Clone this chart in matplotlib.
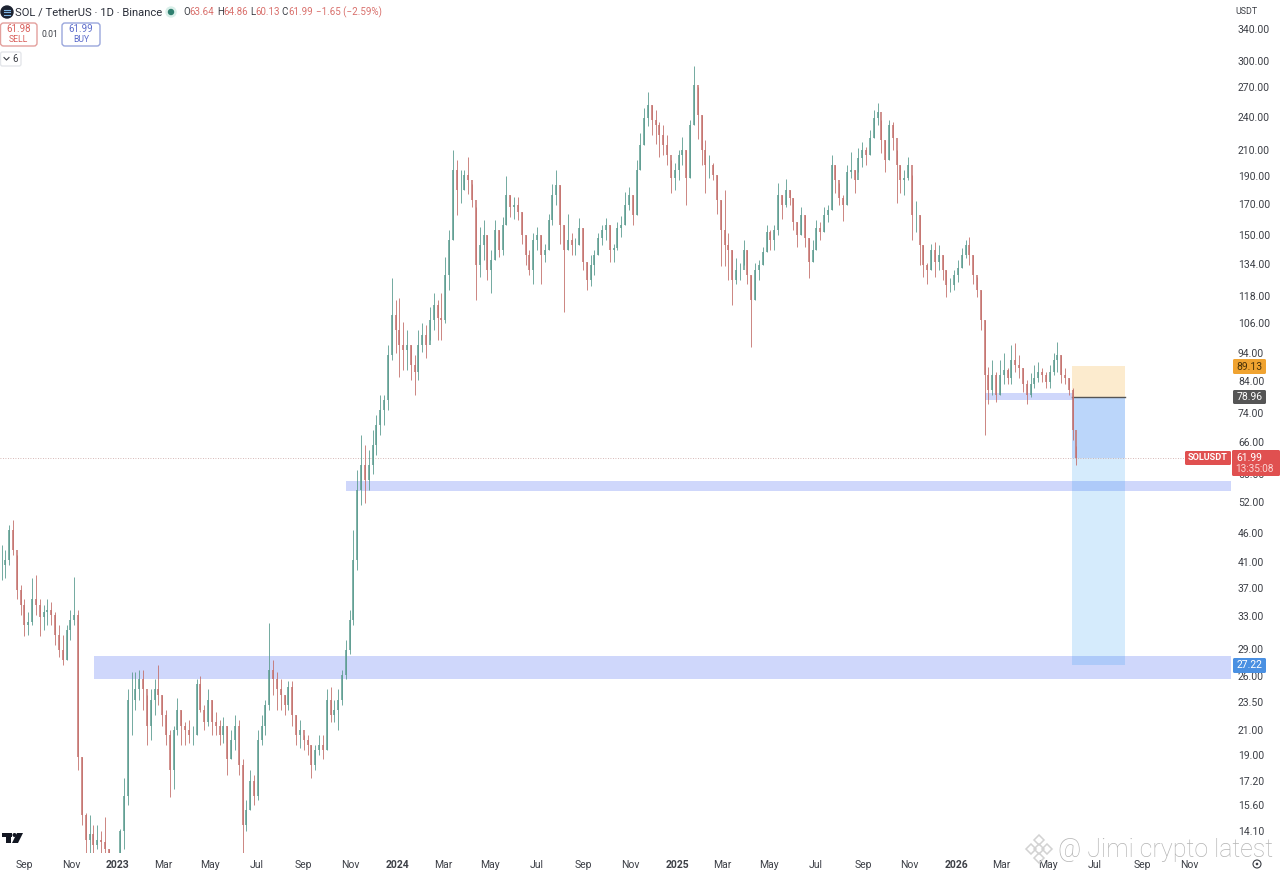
import numpy as np
import matplotlib
matplotlib.use('Agg')
from matplotlib import pyplot as plt
from matplotlib import dates as mdates
from matplotlib.patches import FancyBboxPatch, Polygon, Circle, Rectangle

plt.rcParams['font.family'] = ['Roboto', 'DejaVu Sans']

# Candles, one every 5 days starting at first_bar
first_bar = '2022-08-02'
bar_step_days = 5
highs = [
    43.8, 43.0, 47.4, 48.4, 42.1, 37.4, 35.3, 33.6, 38.5, 38.9,
    35.3, 34.6, 35.3, 34.9, 33.6, 31.9, 30.7, 31.9, 33.9, 38.6,
    33.9, 18.9, 15.1, 15.0, 14.4, 14.4, 14.1, 14.9, 13.1, 12.5,
    12.5, 14.2, 17.4, 24.7, 26.5, 26.5, 26.7, 26.7, 24.2, 24.7,
    25.7, 27.2, 24.2, 22.8, 21.0, 21.4, 23.9, 22.8, 21.7, 21.9,
    21.4, 25.7, 26.0, 23.2, 24.7, 23.7, 22.6, 21.9, 22.1, 21.4,
    21.0, 22.3, 21.9, 18.7, 15.9, 17.9, 17.6, 21.0, 22.3, 23.7,
    32.2, 27.8, 26.5, 25.7, 24.2, 25.5, 25.5, 22.3, 21.9, 20.6,
    20.6, 19.8, 19.8, 20.6, 20.6, 24.7, 24.9, 23.7, 24.7, 26.7,
    30.1, 33.9, 46.5, 59.1, 67.8, 65.2, 64.0, 69.2, 73.5, 79.6,
    79.6, 97.0, 126.6, 116.0, 116.9, 106.3, 103.0, 97.0, 93.2, 103.0,
    105.9, 105.0, 112.8, 119.2, 116.0, 119.2, 137.6, 153.2, 210.4, 202.2,
    194.4, 194.4, 204.7, 183.9, 167.8, 155.0, 159.4, 150.2, 141.5, 159.4,
    153.2, 161.0, 189.3, 176.0, 174.7, 174.7, 164.5, 150.2, 141.5, 151.4,
    155.0, 150.2, 145.0, 163.1, 183.9, 194.4, 183.2, 156.3, 163.1, 151.4,
    148.4, 160.7, 154.5, 135.0, 138.8, 141.5, 151.4, 156.3, 160.7, 156.3,
    145.0, 158.2, 161.5, 177.8, 181.5, 176.0, 202.2, 225.0, 248.6, 265.0,
    251.5, 246.6, 235.0, 232.4, 223.3, 202.2, 199.8, 210.4, 221.5, 210.4,
    237.0, 294.0, 270.0, 241.5, 218.9, 206.2, 199.8, 190.6, 172.6, 179.5,
    151.4, 141.5, 137.1, 134.4, 147.2, 141.5, 128.0, 134.4, 136.0, 143.2,
    156.3, 153.2, 156.3, 184.3, 176.0, 187.6, 179.5, 173.9, 158.2, 167.8,
    162.6, 148.4, 147.2, 159.4, 158.2, 167.8, 169.2, 206.2, 198.2, 184.3,
    176.0, 198.2, 208.7, 194.4, 212.0, 217.2, 213.0, 227.8, 246.6, 253.7,
    237.0, 218.9, 237.0, 235.2, 210.4, 198.2, 194.4, 204.6, 190.6, 171.9,
    162.6, 144.3, 134.4, 145.0, 145.8, 144.3, 138.8, 130.7, 126.6, 130.7,
    136.0, 142.6, 147.2, 148.8, 138.8, 127.1, 120.7, 107.2, 88.7, 91.4,
    87.2, 91.4, 94.0, 88.6, 97.0, 97.8, 93.2, 88.6, 84.4, 86.9,
    89.6, 90.7, 88.6, 87.2, 89.6, 94.0, 98.2, 93.0, 88.6, 85.0,
    81.8, 64.86,
]
lows = [
    38.2, 38.5, 40.5, 42.1, 35.3, 33.2, 30.5, 30.7, 31.9, 33.2,
    30.5, 31.3, 31.9, 31.9, 29.5, 28.1, 27.2, 27.8, 30.1, 31.9,
    17.9, 14.4, 12.8, 12.9, 12.9, 13.1, 12.9, 12.5, 11.8, 11.5,
    11.5, 12.0, 13.1, 15.6, 20.6, 22.8, 23.7, 22.8, 19.8, 20.2,
    22.3, 23.2, 21.4, 19.8, 16.1, 16.6, 20.6, 19.8, 19.8, 20.0,
    19.8, 20.6, 22.6, 21.0, 21.4, 20.6, 20.6, 19.8, 20.0, 17.6,
    18.7, 19.4, 17.6, 12.9, 14.1, 15.3, 15.6, 15.9, 19.8, 20.6,
    22.8, 24.2, 22.8, 22.8, 22.3, 22.8, 21.4, 19.8, 19.6, 19.4,
    19.0, 17.4, 17.9, 19.0, 18.7, 19.4, 21.7, 21.7, 21.0, 23.2,
    25.7, 28.4, 31.9, 39.7, 51.4, 51.8, 54.6, 58.0, 62.7, 67.8,
    70.6, 75.0, 91.4, 93.9, 85.4, 87.9, 87.9, 84.4, 79.6, 84.4,
    94.3, 92.0, 99.0, 103.0, 99.0, 99.0, 105.9, 120.7, 147.2, 162.4,
    170.6, 179.5, 176.7, 167.8, 116.0, 127.1, 136.0, 125.6, 119.2, 136.0,
    137.6, 138.8, 156.3, 161.0, 159.9, 159.4, 145.0, 133.3, 128.0, 123.6,
    141.5, 123.6, 135.0, 141.5, 156.3, 169.2, 145.0, 110.6, 141.5, 138.8,
    138.8, 144.3, 130.7, 120.7, 122.6, 128.0, 138.8, 144.3, 147.2, 134.9,
    135.0, 141.5, 148.8, 156.3, 165.8, 156.3, 162.6, 194.4, 214.6, 231.6,
    223.3, 215.5, 204.6, 206.2, 198.2, 177.2, 179.5, 186.8, 198.2, 169.2,
    188.3, 232.4, 220.1, 198.2, 177.2, 188.3, 186.8, 163.1, 132.8, 132.8,
    125.6, 113.8, 123.6, 125.6, 133.3, 123.6, 96.3, 116.0, 125.6, 133.3,
    140.4, 141.5, 141.5, 150.2, 160.1, 167.8, 169.2, 153.2, 143.2, 150.2,
    143.2, 126.6, 135.0, 141.5, 147.2, 152.0, 158.2, 165.8, 177.2, 169.2,
    158.8, 169.2, 188.3, 177.2, 192.9, 196.7, 198.2, 206.2, 220.7, 232.4,
    208.0, 193.0, 202.2, 210.4, 170.6, 177.2, 176.0, 186.8, 147.2, 152.0,
    133.3, 127.1, 123.6, 130.7, 127.1, 130.7, 125.6, 117.4, 119.7, 120.7,
    124.3, 131.7, 137.1, 133.3, 123.6, 117.4, 103.0, 67.9, 76.8, 79.6,
    77.4, 79.6, 83.0, 83.0, 83.0, 87.2, 85.0, 80.6, 76.8, 79.0,
    81.8, 83.7, 83.7, 81.8, 81.8, 85.9, 87.2, 83.3, 83.0, 79.6,
    66.5, 60.13,
]
closes = [
    40.5, 41.3, 46.5, 43.0, 36.7, 34.6, 31.9, 32.3, 35.3, 34.6,
    32.9, 33.6, 33.9, 33.2, 30.7, 28.9, 27.8, 31.3, 32.6, 33.2,
    18.9, 15.0, 13.6, 13.9, 13.3, 13.6, 13.5, 13.1, 12.3, 12.0,
    12.1, 14.1, 16.2, 23.7, 23.7, 24.7, 25.7, 24.7, 21.4, 23.7,
    24.7, 24.2, 22.3, 20.6, 17.9, 21.0, 22.8, 21.4, 21.0, 20.6,
    20.6, 25.2, 22.8, 21.7, 23.7, 21.7, 21.4, 20.6, 21.4, 18.7,
    20.2, 21.4, 18.3, 14.4, 15.3, 17.2, 16.2, 20.2, 21.4, 23.2,
    26.7, 25.7, 24.7, 24.2, 23.2, 24.9, 22.3, 20.6, 21.0, 20.2,
    19.8, 18.3, 19.4, 19.8, 19.4, 23.7, 22.3, 22.8, 23.7, 26.2,
    28.9, 32.6, 41.3, 54.6, 60.3, 56.8, 60.3, 65.2, 70.6, 75.0,
    78.0, 93.2, 109.3, 103.0, 97.0, 95.1, 97.0, 89.6, 87.2, 97.0,
    101.0, 97.0, 107.2, 113.8, 108.0, 107.2, 128.0, 147.2, 194.4, 179.5,
    179.5, 190.6, 186.8, 172.6, 133.3, 144.3, 150.2, 130.7, 136.0, 153.2,
    141.5, 156.3, 176.0, 167.8, 169.2, 164.5, 150.2, 138.8, 130.7, 147.2,
    150.2, 138.8, 141.5, 159.4, 176.0, 183.2, 156.3, 141.5, 147.2, 144.3,
    144.3, 154.5, 135.0, 125.6, 133.3, 138.8, 148.4, 153.2, 156.3, 141.5,
    142.6, 154.5, 156.3, 169.2, 176.0, 162.6, 194.4, 214.6, 238.9, 251.5,
    237.0, 232.4, 223.3, 214.6, 206.2, 188.3, 194.4, 206.2, 210.4, 188.3,
    232.4, 272.0, 241.5, 210.4, 198.2, 198.2, 190.6, 172.6, 153.2, 144.3,
    141.5, 125.6, 130.7, 130.7, 141.5, 128.0, 116.0, 130.7, 133.3, 140.4,
    152.0, 147.2, 153.2, 176.0, 169.2, 179.5, 173.9, 158.2, 150.2, 162.6,
    148.4, 135.0, 141.5, 154.5, 152.0, 162.6, 165.8, 198.2, 186.8, 173.9,
    169.2, 192.9, 194.4, 186.8, 203.8, 210.4, 206.2, 220.7, 239.0, 244.6,
    218.9, 202.2, 232.4, 220.7, 198.2, 186.8, 188.3, 198.2, 162.6, 162.6,
    144.3, 133.3, 130.7, 141.5, 135.0, 138.8, 130.7, 123.0, 123.0, 128.0,
    131.7, 138.8, 144.3, 138.8, 128.0, 120.7, 107.2, 85.9, 81.2, 86.2,
    79.6, 86.2, 87.9, 85.0, 91.4, 89.6, 88.6, 83.0, 79.6, 83.0,
    85.0, 87.2, 85.9, 83.7, 87.2, 91.4, 93.0, 85.9, 85.0, 81.2,
    69.2, 61.99,
]

# Price axis and time axis labels
price_ticks = [340, 300, 270, 240, 210, 190, 170, 150, 134, 118, 106, 94, 84, 74,
               66, 58, 52, 46, 41, 37, 33, 29, 26, 23.5, 21, 19, 17.2, 15.6, 14.1]
time_tick_dates = ['2022-09-01', '2022-11-01', '2023-01-01', '2023-03-01', '2023-05-01',
                   '2023-07-01', '2023-09-01', '2023-11-01', '2024-01-01', '2024-03-01',
                   '2024-05-01', '2024-07-01', '2024-09-01', '2024-11-01', '2025-01-01',
                   '2025-03-01', '2025-05-01', '2025-07-01', '2025-09-01', '2025-11-01',
                   '2026-01-01', '2026-03-01', '2026-05-01', '2026-07-01', '2026-09-01',
                   '2026-11-01']
time_tick_labels = ['Sep', 'Nov', '2023', 'Mar', 'May', 'Jul', 'Sep', 'Nov', '2024', 'Mar',
                    'May', 'Jul', 'Sep', 'Nov', '2025', 'Mar', 'May', 'Jul', 'Sep', 'Nov',
                    '2026', 'Mar', 'May', 'Jul', 'Sep', 'Nov']

# Support zones: start date, price low, price high
zone_starts = ['2023-10-26', '2022-12-01', '2026-02-07']
zone_ends = ['2026-12-26', '2026-12-26', '2026-06-03']
zone_lows = [54.4, 25.7, 78.0]
zone_highs = [56.6, 28.2, 80.0]

# Short position tool
position_start = '2026-06-01'
position_end = '2026-08-09'
stop_price = 89.13
entry_price = 78.96
last_price = 61.99
target_price = 27.22

UP = '#5c9c90'
DOWN = '#c4716d'
TEXT = '#3c3f46'
W, H = 1280, 874
PLOT_RIGHT, PLOT_BOTTOM = 1231, 853


def num(day):
    return mdates.date2num(np.datetime64(day))


fig = plt.figure(figsize=(W / 100, H / 100), dpi=100)
ax = fig.add_axes([0, (H - PLOT_BOTTOM) / H, PLOT_RIGHT / W, PLOT_BOTTOM / H])

# Zones and the position box sit under the candles
for start, end, low, high in zip(zone_starts, zone_ends, zone_lows, zone_highs):
    ax.fill_between([num(start), num(end)], low, high, color=(0.25, 0.38, 0.94), alpha=0.25, lw=0, zorder=1)
pos_x = [num(position_start), num(position_end)]
ax.fill_between(pos_x, entry_price, stop_price, color='#f5a623', alpha=0.22, lw=0, zorder=1)
ax.fill_between(pos_x, last_price, entry_price, color='#1e78f0', alpha=0.30, lw=0, zorder=1)
ax.fill_between(pos_x, target_price, last_price, color='#2196f3', alpha=0.19, lw=0, zorder=1)
ax.plot(pos_x, [entry_price, entry_price], color='#555555', lw=1, zorder=2)

# Candles
xs = num(first_bar) + np.arange(len(closes)) * bar_step_days
opens = np.r_[closes[0], closes[:-1]]
closes_arr = np.array(closes)
colors = [UP if c >= o else DOWN for o, c in zip(opens, closes_arr)]
ax.vlines(xs, lows, highs, colors=colors, lw=0.6, zorder=3)
ax.vlines(xs, np.minimum(opens, closes_arr), np.maximum(opens, closes_arr), colors=colors, lw=1.1, zorder=3)

ax.axhline(last_price, color='#c9a09e', lw=0.6, ls=(0, (1, 2)), zorder=2)

ax.set_yscale('log')
ax.set_ylim(12.9, 381.5)
ax.set_xlim(num('2022-07-31'), num('2026-12-26'))
ax.yaxis.tick_right()
ax.set_yticks(price_ticks)
ax.set_yticklabels([f'{p:.2f}' for p in price_ticks])
ax.minorticks_off()
ax.set_xticks([num(d) for d in time_tick_dates])
ax.set_xticklabels(time_tick_labels)
ax.tick_params(axis='both', length=0, labelsize=7.5, labelcolor=TEXT)
ax.tick_params(axis='y', pad=5)
ax.tick_params(axis='x', pad=5)
for lab in ax.get_xticklabels():
    if lab.get_text().isdigit():
        lab.set_fontweight('bold')
for lab in ax.get_yticklabels():
    lab.set_y(lab.get_position()[1])
for spine in ax.spines.values():
    spine.set_visible(False)

# Everything else is chart furniture, placed in screen pixels
ov = fig.add_axes([0, 0, 1, 1], zorder=5)
ov.set_xlim(0, W)
ov.set_ylim(H, 0)
ov.axis('off')


def box(x0, y0, x1, y1, face='none', edge='none', r=1.5, lw=1.0):
    ov.add_patch(FancyBboxPatch((x0, y0), x1 - x0, y1 - y0, boxstyle=f'round,pad=0,rounding_size={r}',
                                facecolor=face, edgecolor=edge, lw=lw))


def label(x, y, s, size=7.5, color=TEXT, ha='center', **kw):
    ov.text(x, y, s, fontsize=size, color=color, ha=ha, va='center', **kw)


# Right hand price labels
label(1246, 12, 'USDT', size=6.4)
box(1233, 359, 1266, 374, face='#f0a330')
label(1249.5, 366.5, '89.13', color='#4a3208')
box(1233, 390, 1266, 404, face='#555555')
label(1249.5, 397, '78.96', color='white')
box(1233, 658, 1266, 673, face='#4a90e2')
label(1249.5, 665.5, '27.22', color='white')
box(1185, 451, 1231, 465, face='#e05050')
label(1208, 458, 'SOLUSDT', size=6.6, color='white', fontweight='bold')
box(1232, 450, 1280, 476, face='#e05050')
label(1249.5, 458, '61.99', color='white')
label(1254, 469, '13:35:08', size=7.2, color='#fbd5d3')

# Header
ov.add_patch(Circle((7, 12), 6, color='#1c2230'))
for yy in (9.5, 12, 14.5):
    ov.plot([4, 10], [yy, yy], color='#7fb6e6', lw=0.8)
label(15, 12, 'SOL / TetherUS · 1D · Binance', size=8.1, color='#2a2e39', ha='left')
ov.add_patch(Circle((171, 12), 5, color='#d9efe9'))
ov.add_patch(Circle((171, 12), 2.5, color='#2f7f6f'))
label(183, 12, 'O', size=7, ha='left')
label(189, 12, '63.64', size=7, color='#d9706c', ha='left')
label(217, 12, 'H', size=7, ha='left')
label(223, 12, '64.86', size=7, color='#d9706c', ha='left')
label(250, 12, 'L', size=7, ha='left')
label(255, 12, '60.13', size=7, color='#d9706c', ha='left')
label(281, 12, 'C', size=7, ha='left')
label(288, 12, '61.99', size=7, color='#d9706c', ha='left')
label(316, 12, '−1.65 (−2.59%)', size=7, color='#d9706c', ha='left')

box(0.5, 23, 37, 46, edge='#e3a09d', r=3)
label(18.5, 29.5, '61.98', size=7, color='#d9605c')
label(18.5, 39, 'SELL', size=6.2, color='#d9605c')
label(49.5, 34.5, '0.01', size=6.2)
box(62, 23, 100, 46, edge='#9aa6dc', r=3)
label(81, 29.5, '61.99', size=7, color='#5c6ccb')
label(81, 39, 'BUY', size=6.2, color='#5c6ccb')
box(0.5, 52, 21, 66, edge='#e4e6ea', r=2)
ov.plot([4, 6.5, 9], [57.5, 60, 57.5], color=TEXT, lw=0.8)
label(15, 59, '6', size=7)

# TradingView mark
ov.add_patch(Rectangle((2, 833), 10, 4, color='#131722', lw=0))
ov.add_patch(Rectangle((6, 833), 5, 10, color='#131722', lw=0))
ov.add_patch(Circle((14.5, 835), 2, color='#131722', lw=0))
ov.add_patch(Polygon([(17, 833), (23, 833), (18, 843), (12, 843)], color='#131722', lw=0))

# Corner settings button
ov.add_patch(Circle((1257, 864), 4, facecolor='none', edgecolor=TEXT, lw=0.8))
ov.add_patch(Circle((1257, 864), 1.3, facecolor=TEXT, edgecolor='none'))

# Watermark
for cx, cy in [(1039, 840), (1031, 849), (1047, 849), (1039, 858), (1039, 849)]:
    ov.add_patch(Polygon([(cx, cy - 5), (cx + 5, cy), (cx, cy + 5), (cx - 5, cy)],
                         facecolor='none', edgecolor='#d2d2d2', lw=1.1))
label(1058, 850, '@ Jimi crypto latest', size=18, color='#b4b4b4', ha='left', fontweight='light')

fig.savefig('out.png', dpi=100)
